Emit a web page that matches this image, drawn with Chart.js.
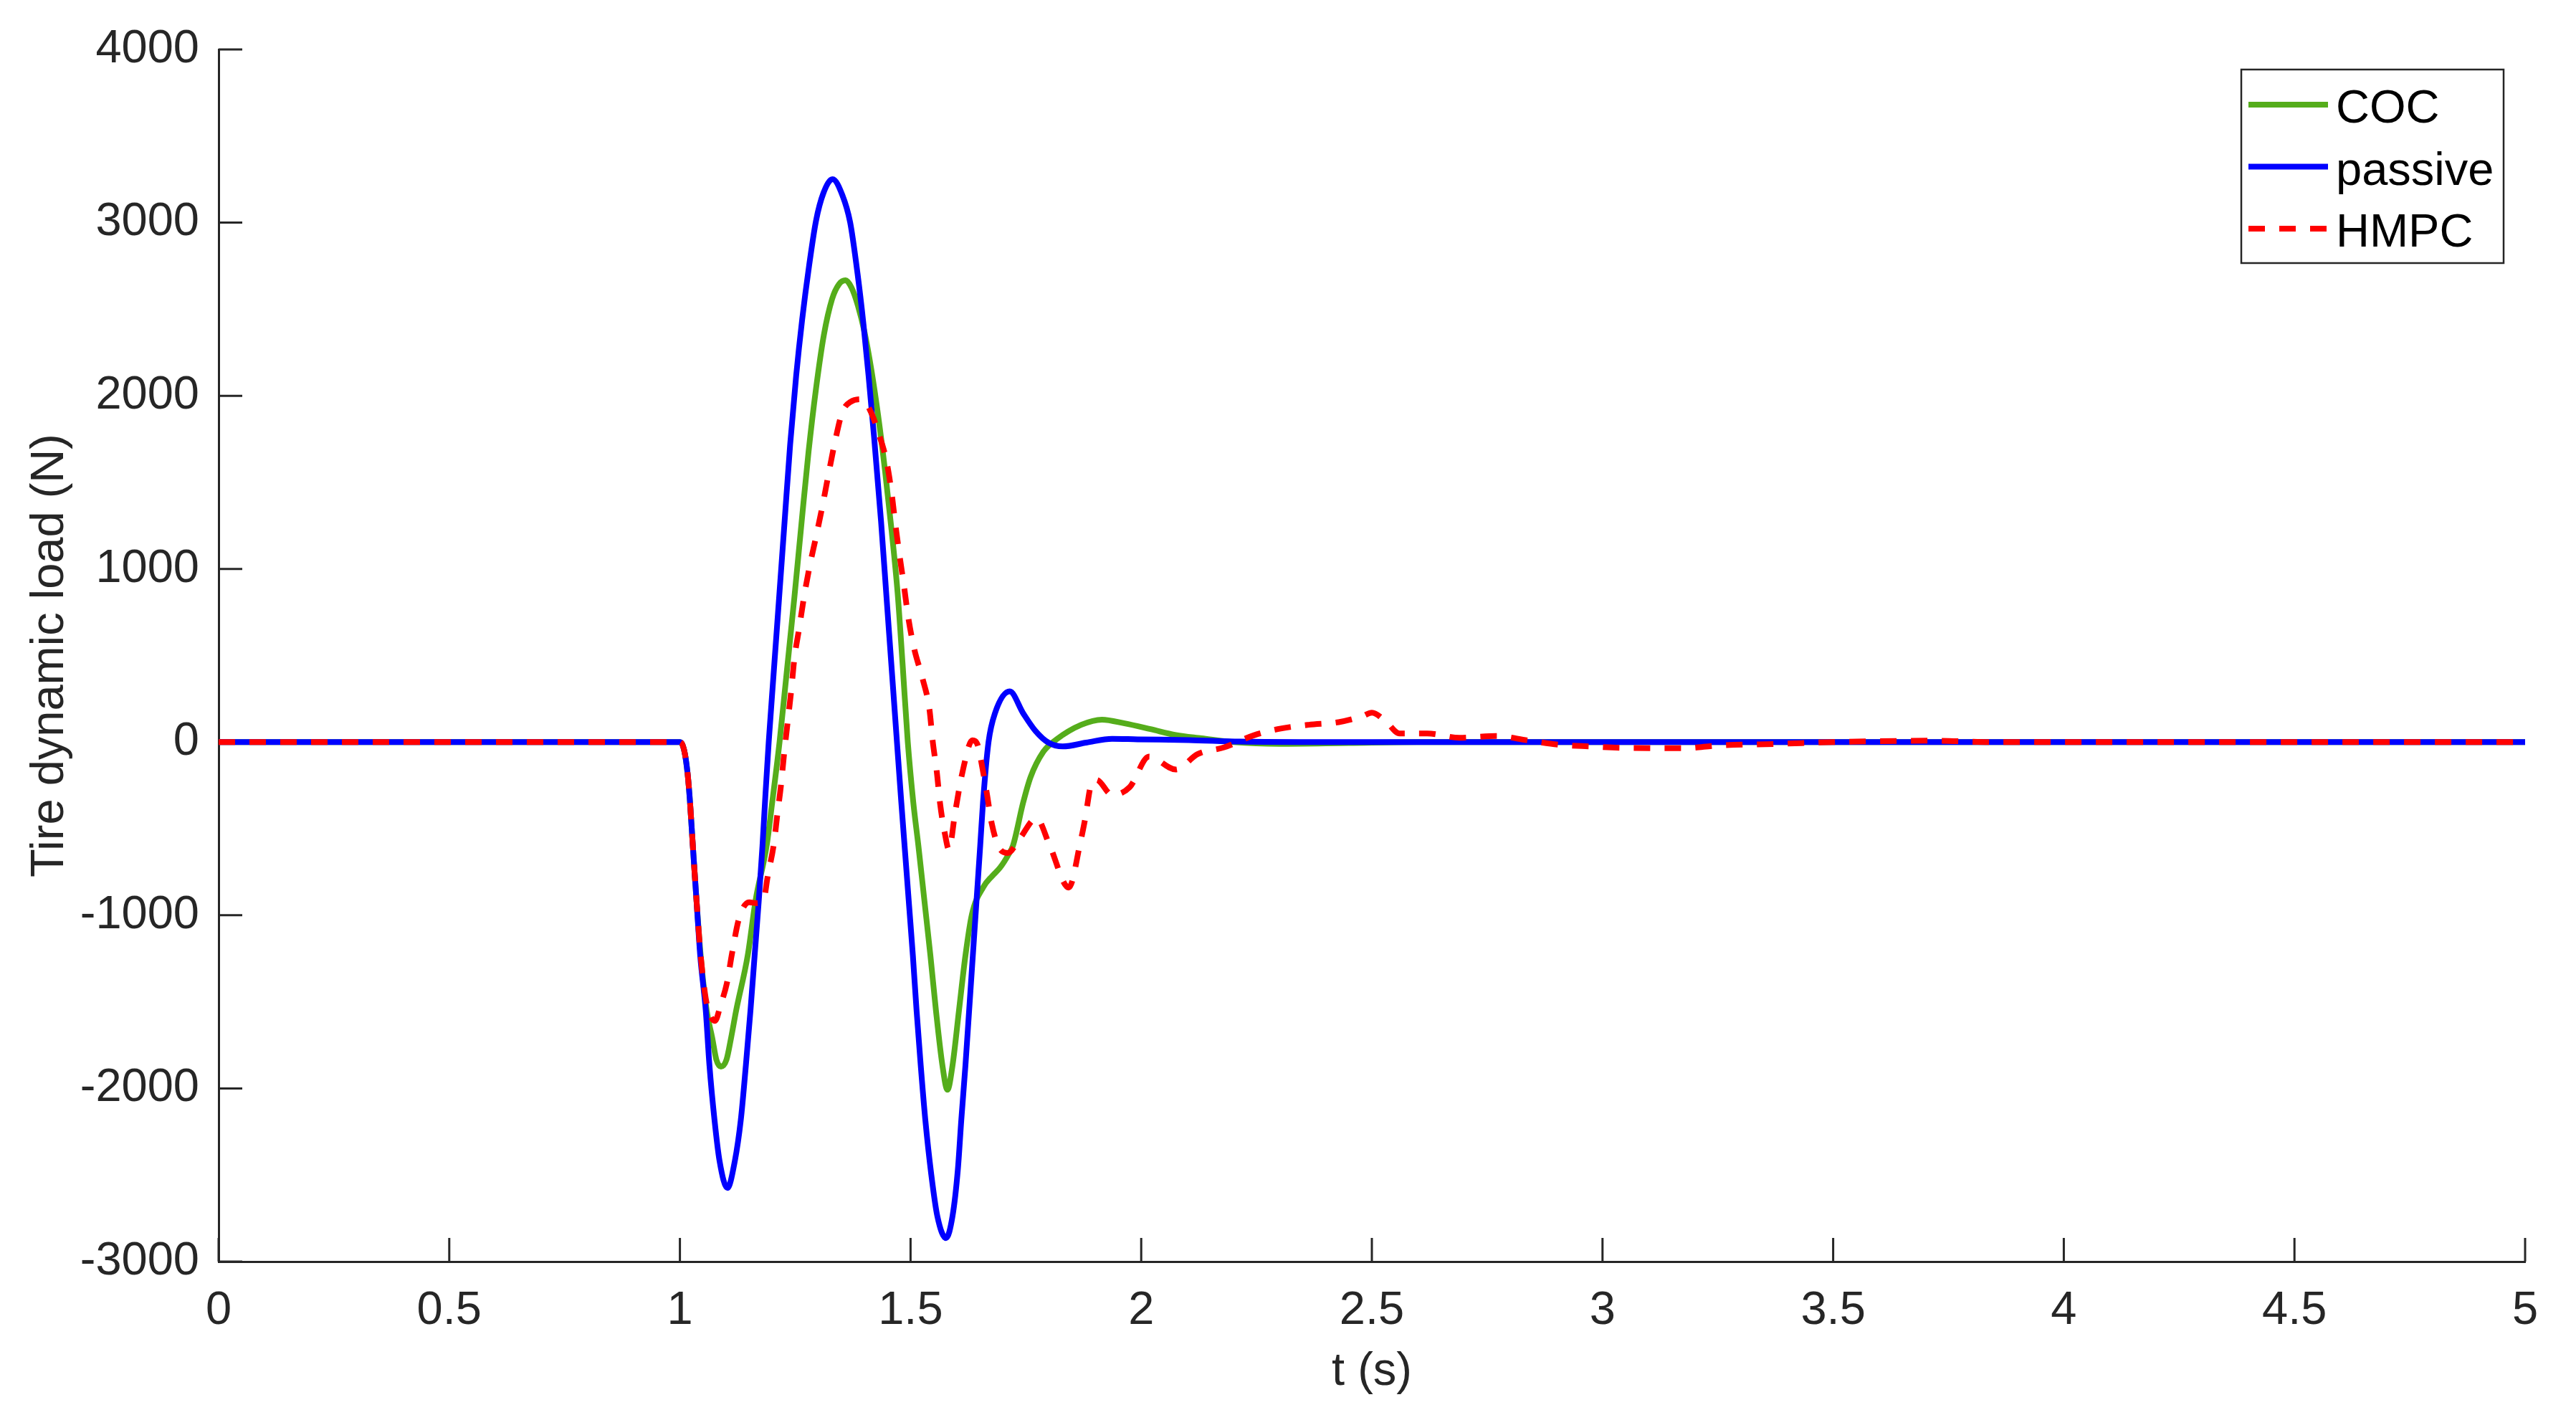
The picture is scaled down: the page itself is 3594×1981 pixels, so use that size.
<!DOCTYPE html>
<html>
<head>
<meta charset="utf-8">
<script src="https://cdn.jsdelivr.net/npm/chart.js@4.4.1/dist/chart.umd.min.js"></script>
<style>
  body { margin: 0; background: #fff; }
  #wrap { width: 3594px; height: 1981px; }
</style>
</head>
<body>
<div id="wrap"><canvas id="tire-chart" width="3594" height="1981"></canvas></div>
<script>
// Series: time (s) and tire dynamic load (N)
const cocT = [0, 1.0, 1.006, 1.011, 1.017, 1.022, 1.028, 1.036, 1.045, 1.058, 1.070, 1.079, 1.089, 1.101, 1.111, 1.122, 1.147, 1.164, 1.188, 1.200, 1.216, 1.231, 1.248, 1.264, 1.279, 1.295, 1.312, 1.330, 1.345, 1.359, 1.372, 1.386, 1.400, 1.415, 1.430, 1.445, 1.459, 1.472, 1.483, 1.494, 1.506, 1.517, 1.530, 1.543, 1.555, 1.569, 1.580, 1.591, 1.605, 1.619, 1.633, 1.658, 1.677, 1.694, 1.713, 1.722, 1.744, 1.760, 1.788, 1.816, 1.870, 1.915, 1.964, 2.020, 2.075, 2.131, 2.20, 2.30, 2.45, 2.60, 5];
const cocF = [0, 0, -18, -70, -190, -350, -598, -915, -1232, -1549, -1707, -1834, -1874, -1834, -1707, -1549, -1232, -915, -599, -350, 0, 389, 832, 1276, 1680, 2040, 2350, 2560, 2645, 2667, 2625, 2520, 2370, 2150, 1880, 1560, 1220, 860, 440, 0, -350, -599, -915, -1232, -1549, -1866, -2008, -1866, -1549, -1232, -995, -836, -773, -725, -646, -598, -350, -203, -55, 15, 100, 130, 108, 75, 41, 22, 0, -10, -5, 0, 0];

const passiveT = [0, 1.0, 1.006, 1.011, 1.017, 1.022, 1.028, 1.036, 1.044, 1.056, 1.064, 1.075, 1.086, 1.103, 1.119, 1.132, 1.143, 1.153, 1.162, 1.171, 1.179, 1.1855, 1.1925, 1.203, 1.215, 1.227, 1.239, 1.252, 1.265, 1.280, 1.295, 1.311, 1.331, 1.352, 1.369, 1.385, 1.398, 1.409, 1.421, 1.436, 1.448, 1.460, 1.4705, 1.480, 1.4885, 1.497, 1.505, 1.513, 1.522, 1.532, 1.545, 1.558, 1.577, 1.591, 1.6025, 1.610, 1.619, 1.627, 1.635, 1.643, 1.651, 1.657, 1.669, 1.683, 1.715, 1.744, 1.771, 1.799, 1.830, 1.881, 1.937, 1.992, 2.103, 2.214, 2.40, 5];
const passiveF = [0, 0, -18, -70, -190, -350, -598, -915, -1232, -1549, -1866, -2182, -2420, -2575, -2420, -2182, -1866, -1549, -1232, -915, -598, -300, 0, 389, 832, 1276, 1719, 2115, 2440, 2750, 3010, 3170, 3251, 3160, 3002, 2707, 2411, 2115, 1760, 1276, 832, 389, 0, -350, -650, -950, -1232, -1549, -1866, -2182, -2499, -2737, -2864, -2737, -2470, -2182, -1866, -1549, -1232, -915, -598, -350, 0, 167, 293, 167, 64, -3, -25, -3, 19, 16, 12, 3, 0, 0];

const hmpcT = [0, 1.0, 1.006, 1.011, 1.017, 1.022, 1.028, 1.036, 1.045, 1.056, 1.066, 1.076, 1.088, 1.102, 1.113, 1.128, 1.150, 1.166, 1.182, 1.190, 1.2042, 1.2109, 1.2192, 1.2258, 1.2336, 1.2414, 1.248, 1.2586, 1.269, 1.2813, 1.2957, 1.3096, 1.3224, 1.335, 1.352, 1.370, 1.395, 1.415, 1.430, 1.448, 1.459, 1.467, 1.476, 1.486, 1.495, 1.508, 1.526, 1.541, 1.548, 1.557, 1.564, 1.575, 1.583, 1.597, 1.612, 1.634, 1.646, 1.653, 1.665, 1.676, 1.692, 1.711, 1.736, 1.773, 1.802, 1.843, 1.868, 1.878, 1.892, 1.903, 1.937, 1.975, 2.017, 2.075, 2.122, 2.180, 2.245, 2.296, 2.363, 2.428, 2.480, 2.500, 2.530, 2.560, 2.620, 2.690, 2.770, 2.837, 2.906, 2.975, 3.043, 3.180, 3.248, 3.385, 3.500, 3.720, 3.850, 5];
const hmpcF = [0, 0, -18, -70, -190, -350, -598, -915, -1232, -1480, -1580, -1610, -1520, -1390, -1220, -1020, -925, -930, -905, -780, -578, -424, -247, -69, 115, 300, 479, 658, 838, 1016, 1193, 1372, 1551, 1720, 1905, 1965, 1980, 1900, 1790, 1620, 1438, 1260, 1081, 897, 720, 538, 367, 188, 6, -175, -355, -537, -620, -400, -180, 10, -20, -110, -290, -470, -610, -640, -560, -440, -600, -840, -580, -450, -240, -218, -305, -260, -84, -158, -70, -30, 40, 75, 100, 115, 150, 170, 120, 50, 50, 25, 35, 10, -15, -25, -33, -35, -20, -10, 0, 8, 0, 0];

const seriesLabels = ['COC', 'passive', 'HMPC'];
const xTicks = { min: 0, max: 5, step: 0.5 };
const yTicks = { min: -3000, max: 4000, step: 1000 };

const axisColor = '#262626';
const fontFamily = '"Liberation Sans", Arial, sans-serif';

function toPoints(ts, fs) {
    return ts.map((t, i) => ({ x: t, y: fs[i] }));
}

// MATLAB-style ticks pointing into the plot
const innerTicks = {
    id: 'innerTicks',
    beforeDatasetsDraw(chart) {
        const ctx = chart.ctx;
        const area = chart.chartArea;
        const len = 33;
        ctx.save();
        ctx.strokeStyle = axisColor;
        ctx.lineWidth = 3;
        chart.scales.x.ticks.forEach((tk) => {
            const px = chart.scales.x.getPixelForValue(tk.value);
            ctx.beginPath();
            ctx.moveTo(px, area.bottom);
            ctx.lineTo(px, area.bottom - len);
            ctx.stroke();
        });
        chart.scales.y.ticks.forEach((tk) => {
            const py = chart.scales.y.getPixelForValue(tk.value);
            ctx.beginPath();
            ctx.moveTo(area.left, py);
            ctx.lineTo(area.left + len, py);
            ctx.stroke();
        });
        ctx.restore();
    }
};

// Boxed legend in the upper right corner
const boxLegend = {
    id: 'boxLegend',
    afterDraw(chart) {
        const ctx = chart.ctx;
        const area = chart.chartArea;
        const w = 366, h = 270;
        const x0 = area.right - 30 - w;
        const y0 = area.top + 28;
        ctx.save();
        ctx.fillStyle = '#fff';
        ctx.fillRect(x0, y0, w, h);
        ctx.strokeStyle = axisColor;
        ctx.lineWidth = 2.5;
        ctx.strokeRect(x0, y0, w, h);
        chart.data.datasets.forEach((ds, i) => {
            const ly = y0 + 49 + i * 86.5;
            ctx.beginPath();
            ctx.strokeStyle = ds.borderColor;
            ctx.lineWidth = 8;
            ctx.setLineDash(ds.borderDash || []);
            ctx.moveTo(x0 + 10, ly);
            ctx.lineTo(x0 + 121, ly);
            ctx.stroke();
            ctx.setLineDash([]);
            ctx.fillStyle = '#000';
            ctx.font = '65px ' + fontFamily;
            ctx.textAlign = 'left';
            ctx.textBaseline = 'alphabetic';
            ctx.fillText(ds.label, x0 + 132, ly + 25);
        });
        ctx.restore();
    }
};

const chart = new Chart(document.getElementById('tire-chart'), {
    type: 'line',
    data: {
        datasets: [{
            label: seriesLabels[0],
            data: toPoints(cocT, cocF),
            borderColor: '#55AD1B',
            order: 3
        }, {
            label: seriesLabels[1],
            data: toPoints(passiveT, passiveF),
            borderColor: '#0000FF',
            order: 2
        }, {
            label: seriesLabels[2],
            data: toPoints(hmpcT, hmpcF),
            borderColor: '#FF0000',
            borderDash: [23, 20],
            order: 1
        }]
    },
    options: {
        responsive: false,
        devicePixelRatio: 1,
        animation: false,
        layout: { padding: { top: 69, right: 71, left: 0, bottom: 0 } },
        elements: {
            line: { borderWidth: 8, cubicInterpolationMode: 'monotone', borderJoinStyle: 'round', fill: false },
            point: { radius: 0 }
        },
        plugins: {
            legend: { display: false },
            tooltip: { enabled: false }
        },
        scales: {
            x: {
                type: 'linear',
                min: xTicks.min,
                max: xTicks.max,
                afterFit: (s) => { s.height = 221; },
                grid: { display: false, drawTicks: false },
                border: { display: true, color: axisColor, width: 3 },
                ticks: {
                    stepSize: xTicks.step,
                    color: axisColor,
                    padding: 30,
                    maxRotation: 0,
                    font: { family: fontFamily, size: 65 },
                    callback: (v) => String(v)
                },
                title: {
                    display: true,
                    text: 't (s)',
                    color: axisColor,
                    font: { family: fontFamily, size: 65 },
                    padding: { top: 0, bottom: 28 }
                }
            },
            y: {
                type: 'linear',
                min: yTicks.min,
                max: yTicks.max,
                afterFit: (s) => { s.width = 305; },
                grid: { display: false, drawTicks: false },
                border: { display: true, color: axisColor, width: 3 },
                ticks: {
                    stepSize: yTicks.step,
                    color: axisColor,
                    padding: 27,
                    font: { family: fontFamily, size: 65 },
                    callback: (v) => String(v)
                },
                title: {
                    display: true,
                    text: 'Tire dynamic load (N)',
                    color: axisColor,
                    font: { family: fontFamily, size: 65 },
                    padding: { top: 31, bottom: 0 }
                }
            }
        }
    },
    plugins: [innerTicks, boxLegend]
});
</script>
</body>
</html>
